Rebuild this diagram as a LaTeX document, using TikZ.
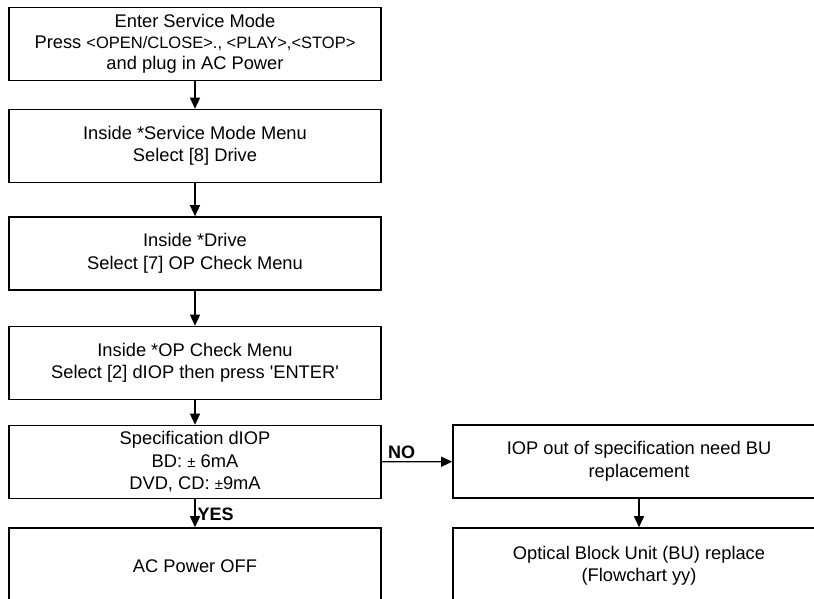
\documentclass[tikz,border=0pt]{standalone}
\usepackage{fontspec}
\setmainfont{Liberation Sans}
\usetikzlibrary{arrows.meta}
\begin{document}
\begin{tikzpicture}[x=1pt,y=-1pt,
    box_node/.style={rectangle,draw,line width=1.6pt,minimum width=372pt,minimum height=73pt,inner sep=2pt,align=center,font=\fontsize{18.3}{22.5}\selectfont},
    flow/.style={line width=1.3pt,-{Triangle[length=11pt,width=10pt]}},
    flow_label/.style={font=\fontsize{18}{20}\selectfont\bfseries,inner sep=2pt}]
    \useasboundingbox (0,0) rectangle (814,598);
    \clip (0,0) rectangle (814,598);
	    \node[box_node] (1) at (195,44) {Enter Service Mode\\[-1.5pt]Press {\fontsize{16.5}{20}\selectfont <OPEN/CLOSE>., <PLAY>,<STOP>}\\[-1.5pt]and plug in AC Power};
	    \node[box_node] (2) at (195,146) {Inside *Service Mode Menu\\Select [8] Drive};
	    \node[box_node] (3) at (195,253.5) {Inside *Drive\\Select [7] OP Check Menu};
	    \node[box_node] (4) at (195,363) {Inside *OP Check Menu\\Select [2] dIOP then press \textquotesingle ENTER\textquotesingle};
	    \node[box_node] (5) at (195,462) {Specification dIOP\\BD: {\fontsize{15}{20}\selectfont ±} 6mA\\DVD, CD: {\fontsize{15}{20}\selectfont ±}9mA};
	    \node[box_node,minimum height=76pt] (6) at (195,566) {AC Power OFF};
	    \node[box_node] (7) at (639,461.5) {IOP out of specification need BU\\replacement};
	    \node[box_node,minimum height=76pt] (8) at (639,566) {Optical Block Unit (BU) replace\\(Flowchart yy)};

	    \draw[flow] (1) -- (2);
	    \draw[flow] (2) -- (3);
	    \draw[flow] (3) -- (4);
	    \draw[flow] (4) -- (5);
	    \draw[flow] (5) -- node[flow_label,right,pos=0.55] {YES} (6);
	    \draw[flow] (5) -- node[flow_label,above,pos=0.28] {NO} (7);
	    \draw[flow] (7) -- (8);
    \end{tikzpicture}
\end{document}
